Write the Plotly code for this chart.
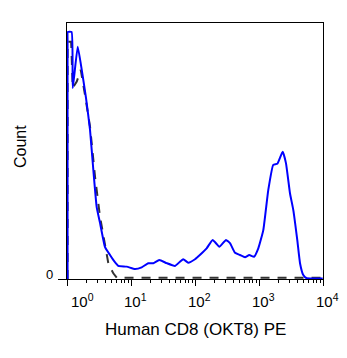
import plotly.graph_objects as go
import math

# Blue: stained sample
cd8_x = [1.02, 1.02, 1.03, 1.18, 1.23, 1.47, 1.70, 1.98, 2.29, 2.58, 2.91, 3.28, 3.93, 4.70, 5.42,
         6.34, 8.57, 11.55, 14.7, 18.6, 22.3, 27.7, 36.1, 48.7, 58.3, 65.6, 78.5, 100, 119, 152,
         189, 240, 305, 352, 422, 505, 604, 705, 836, 975, 1167, 1396, 1671, 1932, 2344, 2642,
         3048, 3436, 3963, 4375, 4920, 5559, 6982, 9886]
cd8_y = [0, 96, 100, 100, 77.3, 94.0, 84.6, 73.3, 60.3, 44.1, 29.1, 22.7, 12.9, 9.7, 7.3,
         5.3, 5.0, 4.0, 4.7, 6.4, 6.4, 7.7, 6.4, 5.3, 7.0, 8.0, 6.6, 8.0, 9.7, 12.4,
         15.8, 13.1, 15.8, 14.5, 10.6, 9.7, 8.8, 9.7, 9.0, 12.4, 19.8, 36.0, 46.2, 46.6, 51.5, 46.8,
         34.7, 27.9, 15.8, 6.4, 1.6, 0.3, 0.2, 0.2]

# Dashed: isotype control
iso_x = [1.02, 1.02, 1.16, 1.23, 1.42, 1.64, 1.91, 2.29, 2.74, 3.28, 3.93, 4.42, 5.29, 6.04, 8.05, 9700]
iso_y = [0, 96, 96, 77.3, 79.9, 84.6, 74.5, 61.7, 41.4, 25.2, 13.8, 6.4, 2.3, 0.4, 0.5, 0.5]

x_tick_vals = [1, 10, 100, 1000, 10000]
x_tick_text = ["10<sup>0</sup>", "10<sup>1</sup>", "10<sup>2</sup>", "10<sup>3</sup>", "10<sup>4</sup>"]
minor_vals = [m * 10 ** k for k in range(4) for m in range(2, 10)]

FONT = "Arial, Liberation Sans, Helvetica, sans-serif"

fig = go.Figure()
fig.add_trace(go.Scatter(x=iso_x, y=iso_y, mode="lines",
                         line=dict(color="#333333", width=2, dash="9px,8px"),
                         hoverinfo="skip"))
fig.add_trace(go.Scatter(x=cd8_x, y=cd8_y, mode="lines",
                         line=dict(color="#0000ff", width=2, shape="spline", smoothing=0.4),
                         hoverinfo="skip"))

annotations = []
for i, (v, t) in enumerate(zip(x_tick_vals, x_tick_text)):
    px = math.log10(v) / 4 + (0.059 if i == 0 else 0.016)
    annotations.append(dict(x=px, y=0, xref="paper", yref="y", text=t, showarrow=False,
                            yshift=-21, xanchor="center", yanchor="middle",
                            font=dict(family=FONT, size=15, color="black")))
annotations.append(dict(x=-0.045, y=0, xref="paper", yref="y", text="0", showarrow=False,
                        xanchor="right", yanchor="middle", yshift=5,
                        font=dict(family=FONT, size=13, color="black")))
annotations.append(dict(x=0.5, y=-0.199, xref="paper", yref="paper", text="Human CD8 (OKT8) PE",
                        showarrow=False, xanchor="center", yanchor="middle",
                        font=dict(family=FONT, size=17, color="black")))
annotations.append(dict(x=-0.1836, y=0.5195, xref="paper", yref="paper", text="Count",
                        showarrow=False, textangle=-90, xanchor="center", yanchor="middle",
                        font=dict(family=FONT, size=16, color="black")))

fig.update_layout(
    width=347, height=358,
    margin=dict(l=67, r=24, t=23, b=79),
    paper_bgcolor="white", plot_bgcolor="white",
    showlegend=False,
    annotations=annotations,
    xaxis=dict(type="log", range=[0, 4], showgrid=False, zeroline=False,
               showline=True, linecolor="black", linewidth=1, mirror=True,
               tickvals=x_tick_vals, ticks="outside", ticklen=6, tickcolor="black",
               showticklabels=False,
               minor=dict(tickvals=minor_vals, ticks="outside", ticklen=3, tickcolor="black",
                          showgrid=False)),
    yaxis=dict(range=[0, 103.6], showgrid=False, zeroline=False,
               showline=True, linecolor="black", linewidth=1, mirror=True,
               tickvals=[0], ticks="outside", ticklen=8, tickcolor="black",
               showticklabels=False),
)

fig.write_html("out.html")
